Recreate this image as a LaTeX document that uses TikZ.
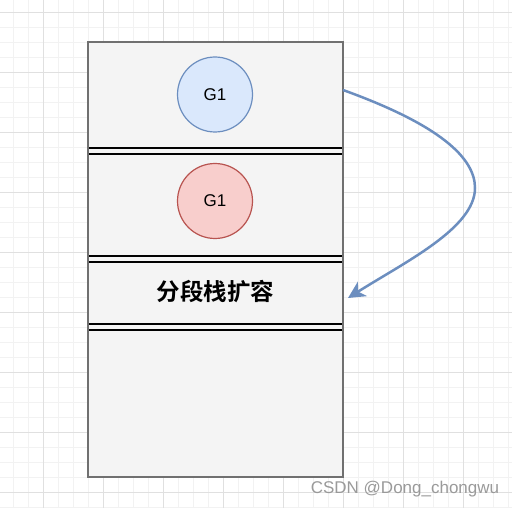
\documentclass[tikz,border=0pt]{standalone}
\usepackage{fontspec}
\setmainfont{Liberation Sans}
\newfontfamily\cjkbold[BoldFont={Noto Sans CJK SC Bold}]{Noto Sans CJK SC}
\usetikzlibrary{arrows.meta}
\definecolor{gridminor}{HTML}{F2F2F2}
\definecolor{gridmajor}{HTML}{E0E0E0}
\definecolor{stackfill}{HTML}{F4F4F4}
\definecolor{stackline}{HTML}{707070}
\definecolor{bluefill}{HTML}{DAE8FC}
\definecolor{bluedraw}{HTML}{6C8EBF}
\definecolor{redfill}{HTML}{F8CECC}
\definecolor{reddraw}{HTML}{B85450}
\definecolor{wmark}{HTML}{9A9A9A}
\tikzset{
  gcircle/.style={circle, minimum size=75pt, inner sep=0pt, line width=1.2pt, font=\fontsize{17}{19}\selectfont},
  sepline/.style={black, line width=1.4pt},
  flowarrow/.style={bluedraw, line width=2.5pt, -{Stealth[length=17pt, width=17pt, inset=5pt]}}
}
\begin{document}
\begin{tikzpicture}[x=1pt,y=-1pt]
\useasboundingbox (0,0) rectangle (512,508);
\fill[white] (0,0) rectangle (512,508);
% grid
\foreach \i in {0,...,33} {
  \draw[gridminor, line width=0.8pt] ({13+15*\i},0) -- ({13+15*\i},508);
  \draw[gridminor, line width=0.8pt] (0,{12+15*\i}) -- (512,{12+15*\i});
}
\foreach \i in {-1,...,8} {
  \draw[gridmajor, line width=0.9pt] ({43+60*\i},0) -- ({43+60*\i},508);
  \draw[gridmajor, line width=0.9pt] (0,{12+60*\i}) -- (512,{12+60*\i});
}
% stack
\fill[stackfill] (88,42) rectangle (343,477);
\foreach \y in {148,154,256,262,324,330} {
  \draw[sepline] (88,\y) -- (343,\y);
}
\draw[stackline, line width=1.6pt] (88,42) rectangle (343,477);
% circles
\node[gcircle, draw=bluedraw, fill=bluefill] (g1a) at (215,94.5) {G1};
\node[gcircle, draw=reddraw, fill=redfill] (g1b) at (215,201) {G1};
\node[font=\cjkbold\bfseries\fontsize{23.5}{27}\selectfont] (seg) at (215.5,292) {分段栈扩容};
% arrow
\coordinate (astart) at (343,90);
\coordinate (aend) at (348,298);
\draw[flowarrow] (astart) .. controls (440,125) and (475,158) .. (475,188)
  .. controls (475,228) and (405,262) .. (aend);
% watermark
\node[text=wmark, font=\fontsize{17}{19}\selectfont, anchor=center] (wm) at (405,489) {CSDN @Dong\_chongwu};
\end{tikzpicture}
\end{document}
